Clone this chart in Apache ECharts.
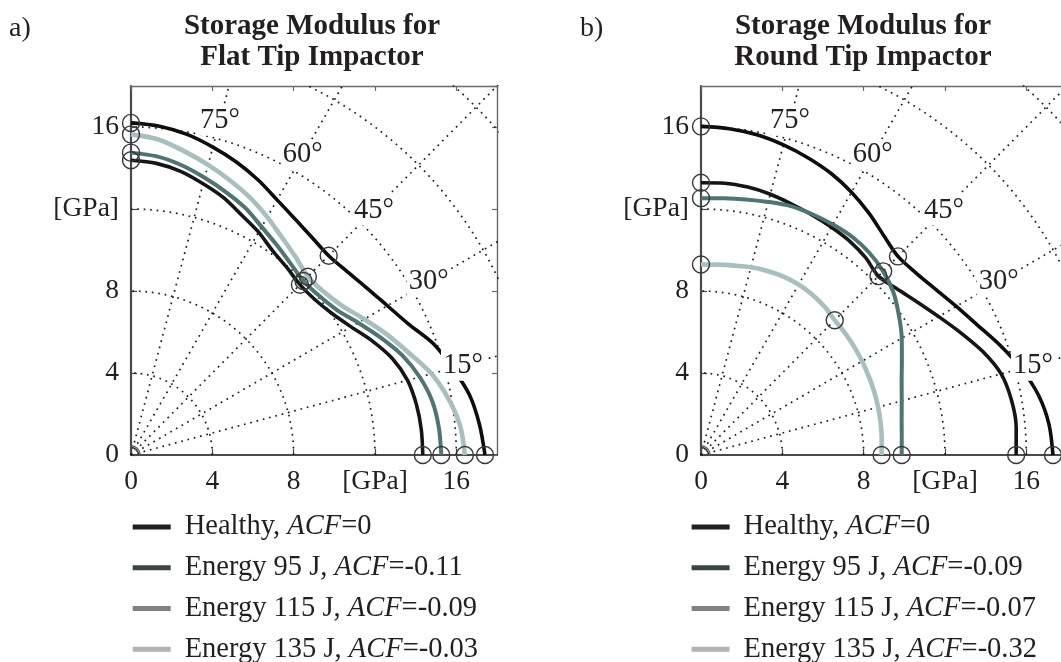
<!DOCTYPE html>
<html>
<head>
<meta charset="utf-8">
<title>Storage Modulus</title>
<script src="https://cdn.jsdelivr.net/npm/echarts@6/dist/echarts.min.js"></script>
<style>
  html, body { margin: 0; padding: 0; background: #fff; }
  #chart { width: 1061px; height: 662px; }
</style>
</head>
<body>
<div id="chart"></div>
<script>
// angle of the measurement direction (deg), 0 = x axis, 90 = y axis
const angles = [0, 5, 10, 15, 20, 25, 30, 35, 40, 45, 50, 55, 60, 65, 70, 75, 80, 85, 90];

// a) flat tip impactor, storage modulus [GPa] for each angle
const flatHealthy = [17.41, 17.2, 16.9, 16.38, 15.84, 15.08, 14.56, 14.18, 13.9, 13.75, 13.85, 14.06, 14.37, 14.8, 15.2, 15.55, 15.88, 16.1, 16.2];
const flat95 = [14.35, 14.33, 14.25, 14.08, 13.7, 13.12, 12.5, 12.05, 11.8, 11.75, 11.93, 12.15, 12.55, 12.9, 13.35, 13.7, 14.05, 14.28, 14.38];
const flat115 = [15.26, 15.2, 15.05, 14.7, 14.2, 13.55, 12.9, 12.35, 12.08, 12.0, 12.2, 12.5, 12.85, 13.3, 13.65, 14.0, 14.35, 14.62, 14.75];
const flat135 = [16.42, 16.25, 15.85, 15.3, 14.55, 13.9, 13.25, 12.68, 12.38, 12.3, 12.6, 12.95, 13.4, 13.85, 14.25, 14.65, 15.05, 15.45, 15.64];

// b) round tip impactor
const roundHealthy = [17.31, 17.18, 16.85, 16.3, 15.65, 15.0, 14.5, 14.09, 13.81, 13.7, 13.98, 14.4, 14.8, 15.15, 15.42, 15.66, 15.86, 15.98, 16.03];
const round95 = [15.5, 15.56, 15.5, 15.28, 14.75, 14.1, 13.5, 13.0, 12.6, 12.34, 12.58, 12.74, 12.83, 12.92, 13.03, 13.17, 13.27, 13.31, 13.28];
const round115 = [9.87, 9.91, 10.02, 10.22, 10.5, 10.9, 11.4, 11.88, 12.35, 12.67, 12.88, 12.98, 12.98, 12.96, 12.92, 12.78, 12.66, 12.57, 12.53];
const round135 = [8.88, 8.92, 8.97, 9.02, 9.06, 9.1, 9.15, 9.2, 9.25, 9.3, 9.45, 9.55, 9.6, 9.6, 9.55, 9.48, 9.38, 9.32, 9.29];

// circle markers sit at these angles
const markerAngles = [0, 45, 90];

// axis ticks
const tickValues = [0, 4, 8, 12, 16];
const tickLabels = ['0', '4', '8', '[GPa]', '16'];

// polar grid
const gridRadii = [4, 8, 12, 16, 20, 24];
const spokeAngles = [15, 30, 45, 60, 75];
const angleLabels = ['15°', '30°', '45°', '60°', '75°'];

// legends
const legendA = ['Healthy, ACF=0', 'Energy 95 J, ACF=-0.11', 'Energy 115 J, ACF=-0.09', 'Energy 135 J, ACF=-0.03'];
const legendB = ['Healthy, ACF=0', 'Energy 95 J, ACF=-0.09', 'Energy 115 J, ACF=-0.07', 'Energy 135 J, ACF=-0.32'];
const legendColors = ['#231f20', '#3b4544', '#808285', '#b1b3b4'];

const curveColors = ['#0d0d0d', '#151515', '#4e7474', '#a7bfbe'];
const curveWidths = [3.6, 3.6, 4, 4.6];

const FONT = '"Liberation Serif", "Times New Roman", serif';
const TXT = '#231f20';

function xy(r, deg) {
  const t = deg * Math.PI / 180;
  return [r * Math.cos(t), r * Math.sin(t)];
}

function tickLabel(v) {
  const i = tickValues.indexOf(v);
  return i >= 0 ? tickLabels[i] : '';
}

function makeAxes(p, dim) {
  const main = {
    gridIndex: p, type: 'value', min: 0, max: 18, interval: 4,
    position: dim === 'x' ? 'bottom' : 'left',
    axisLine: { show: true, onZero: false, lineStyle: { color: '#4a4a4a', width: 2.2 } },
    axisTick: { show: true, inside: true, length: 6, lineStyle: { color: '#4a4a4a', width: 1.2 } },
    axisLabel: {
      show: true, margin: dim === 'x' ? 13 : 12, showMaxLabel: false,
      formatter: tickLabel, fontFamily: FONT, fontSize: 27.5, color: TXT
    },
    splitLine: { show: false }
  };
  const other = {
    gridIndex: p, type: 'value', min: 0, max: 18, interval: 4,
    position: dim === 'x' ? 'top' : 'right',
    axisLine: { show: true, onZero: false, lineStyle: { color: '#6a6a6a', width: 1.4 } },
    axisTick: { show: true, inside: true, length: 5, lineStyle: { color: '#6a6a6a', width: 1.2 } },
    axisLabel: { show: false },
    splitLine: { show: false }
  };
  return [main, other];
}

function panelSeries(p, curves) {
  const ax = { xAxisIndex: 2 * p, yAxisIndex: 2 * p };
  const out = [];
  const dotted = { color: '#1e1e1e', width: 1.7, type: [1.7, 4.8] };

  // dotted circles
  gridRadii.forEach(R => {
    const pts = [];
    for (let d = 0; d <= 90; d += 1) pts.push(xy(R, d));
    out.push(Object.assign({ type: 'line', data: pts, symbol: 'none', silent: true, z: 1,
      lineStyle: dotted, clip: true }, ax));
  });
  // dotted spokes
  spokeAngles.forEach(a => {
    out.push(Object.assign({ type: 'line', data: [[0, 0], xy(30, a)], symbol: 'none', silent: true, z: 1,
      lineStyle: dotted, clip: true }, ax));
  });
  // small arc at the origin
  const arc = [];
  for (let d = 0; d <= 90; d += 5) arc.push(xy(0.45, d));
  out.push(Object.assign({ type: 'line', data: arc, symbol: 'none', silent: true, z: 1,
    lineStyle: { color: '#555', width: 1.2 } }, ax));

  // curves
  curves.forEach((radii, k) => {
    out.push(Object.assign({
      type: 'line', smooth: 0.3, symbol: 'none', silent: true, z: 3,
      data: angles.map((a, i) => xy(radii[i], a)),
      lineStyle: { color: curveColors[k], width: curveWidths[k] }
    }, ax));
  });

  // circle markers
  const marks = [];
  curves.forEach(radii => {
    markerAngles.forEach(a => marks.push(xy(radii[angles.indexOf(a)], a)));
  });
  out.push(Object.assign({
    type: 'scatter', data: marks, symbol: 'circle', symbolSize: 17, silent: true, z: 4,
    itemStyle: { color: 'rgba(0,0,0,0)', borderColor: '#383838', borderWidth: 1.4, opacity: 1 }
  }, ax));

  // angle labels
  out.push(Object.assign({
    type: 'scatter', symbolSize: 1, silent: true, z: 5,
    itemStyle: { color: 'rgba(0,0,0,0)', opacity: 1 },
    data: spokeAngles.map((a, i) => ({ value: xy(16.9, a), name: angleLabels[i] })),
    label: {
      show: true, position: 'inside', formatter: '{b}', fontFamily: FONT, fontSize: 28.5,
      color: TXT, opacity: 1, backgroundColor: '#fff', padding: [1, 2]
    }
  }, ax));
  return out;
}

// empty series that only carry the legend colours
const legendNames = [];
[...legendA, ...legendB].forEach(n => { if (legendNames.indexOf(n) < 0) legendNames.push(n); });
const legendSeries = legendNames.map(n => {
  let k = legendA.indexOf(n);
  if (k < 0) k = legendB.indexOf(n);
  return { type: 'line', name: n, data: [], xAxisIndex: 0, yAxisIndex: 0,
    itemStyle: { color: legendColors[k] }, lineStyle: { color: legendColors[k] } };
});

function makeLegend(names, left) {
  return {
    data: names, orient: 'vertical', left: left, top: 512.4, width: 360, height: 190, padding: 0,
    itemWidth: 38, itemHeight: 5, itemGap: 11.8, icon: 'rect', selectedMode: false,
    formatter: n => n.replace('ACF', '{i|ACF}'),
    textStyle: {
      fontFamily: FONT, fontSize: 28.5, lineHeight: 28, color: TXT, padding: [0, 0, 0, 9],
      rich: { i: { fontFamily: FONT, fontStyle: 'italic', fontSize: 28.5, lineHeight: 28, color: TXT } }
    }
  };
}

const titleText = { fontFamily: FONT, fontSize: 29, fontWeight: 'bold', lineHeight: 31, color: TXT };
const letterText = { fontFamily: FONT, fontSize: 28, fontWeight: 'normal', color: TXT };

const xA = makeAxes(0, 'x'), yA = makeAxes(0, 'y');
const xB = makeAxes(1, 'x'), yB = makeAxes(1, 'y');

const option = {
  animation: false,
  backgroundColor: '#fff',
  title: [
    { text: 'a)', left: 9, top: 15, padding: 0, textStyle: letterText },
    { text: 'Storage Modulus for\nFlat Tip Impactor', left: 312, top: 11, padding: 0, textAlign: 'center', textStyle: titleText },
    { text: 'b)', left: 580, top: 15, padding: 0, textStyle: letterText },
    { text: 'Storage Modulus for\nRound Tip Impactor', left: 863, top: 11, padding: 0, textAlign: 'center', textStyle: titleText }
  ],
  grid: [
    { left: 131, top: 86, width: 366, height: 369, containLabel: false, outerBoundsMode: 'none' },
    { left: 701, top: 86, width: 366, height: 369, containLabel: false, outerBoundsMode: 'none' }
  ],
  xAxis: [xA[0], xA[1], xB[0], xB[1]],
  yAxis: [yA[0], yA[1], yB[0], yB[1]],
  legend: [makeLegend(legendA, 132.7), makeLegend(legendB, 691.6)],
  series: [
    ...panelSeries(0, [flatHealthy, flat95, flat115, flat135]),
    ...panelSeries(1, [roundHealthy, round95, round115, round135]),
    ...legendSeries
  ]
};

const chart = echarts.init(document.getElementById('chart'));
chart.setOption(option);
</script>
</body>
</html>
